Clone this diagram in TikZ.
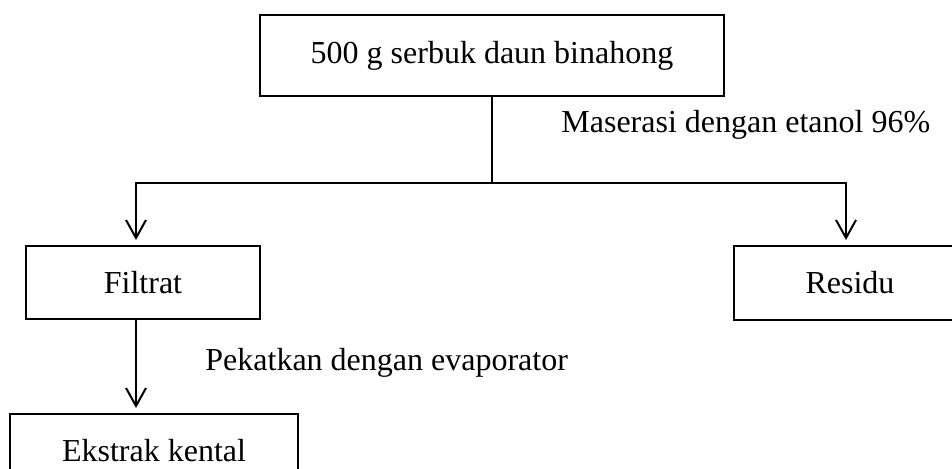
\documentclass[tikz,border=0pt]{standalone}
\usepackage{fontspec}
\setmainfont{Liberation Serif}
\usetikzlibrary{arrows.meta}

\begin{document}
\begin{tikzpicture}[
    x=0.5pt,y=-0.5pt,
    font=\fontsize{16}{19}\selectfont,
    line cap=rect,
    stepbox/.style={draw=black, line width=1pt, rectangle, inner sep=0pt},
    link/.style={draw=black, line width=1pt},
    flow/.style={
        draw=black,
        line width=1pt,
        -{Straight Barb[length=9pt,width=10pt,line width=1pt]},
        shorten >= 2.5pt
    },
    steplab/.style={anchor=base west, inner sep=0pt}
]

\useasboundingbox (0,0) rectangle (952,468);

\node[stepbox, minimum width=232pt, minimum height=40.5pt] (serbuk) at (492,55.5) {500 g serbuk daun binahong};
\node[stepbox, minimum width=117pt, minimum height=36.5pt] (filtrat) at (143,282.5) {Filtrat};
\node[stepbox, minimum width=116pt, minimum height=37pt] (residu) at (850,283) {Residu};
\node[stepbox, minimum width=144pt, minimum height=36.5pt] (ekstrak) at (154,450.5) {Ekstrak kental};

\coordinate (split) at (492,183);
\coordinate (jl) at (136,183);
\coordinate (jr) at (846,183);

\draw[link] (serbuk.south) -- (split);
\draw[link] (jl) -- (jr);
\draw[flow] (jl) -- (jl |- filtrat.north);
\draw[flow] (jr) -- (jr |- residu.north);
\draw[flow] (jl |- filtrat.south) -- (jl |- ekstrak.north);

\node[steplab] (maserasi) at (561,132) {Maserasi dengan etanol 96\%};
\node[steplab] (pekatkan) at (205,370) {Pekatkan dengan evaporator};
\end{tikzpicture}
\end{document}
